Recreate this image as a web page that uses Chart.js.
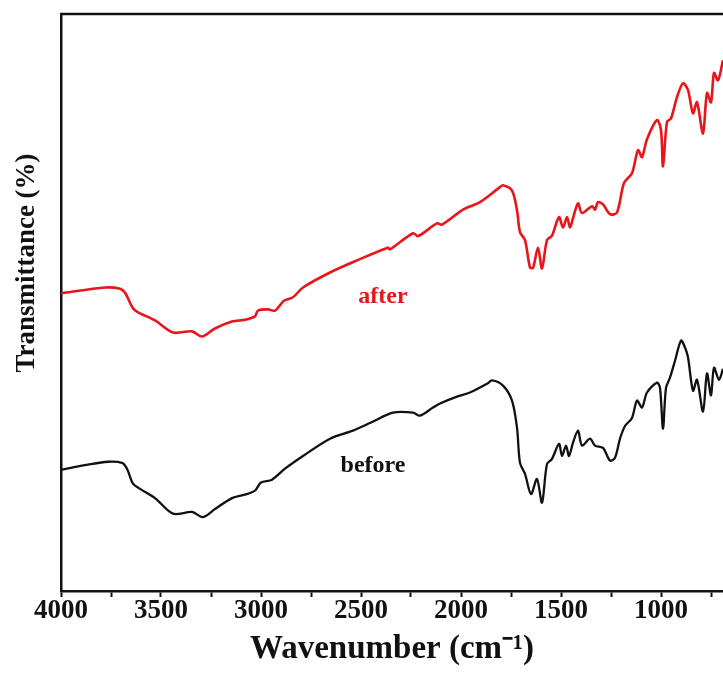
<!DOCTYPE html>
<html>
<head>
<meta charset="utf-8">
<script src="https://cdn.jsdelivr.net/npm/chart.js@4.4.1/dist/chart.umd.min.js"></script>
<style>
  html, body { margin: 0; padding: 0; background: #fff; }
  #wrap { width: 723px; height: 673px; position: relative; }
</style>
</head>
<body>
<div id="wrap"><canvas id="ftirChart"></canvas></div>
<script>
// wavenumbers (cm-1) and transmittance (arbitrary %)
const afterWn = [4000, 3780, 3705, 3680, 3640, 3615, 3530, 3440, 3345, 3295, 3230, 3145, 3080, 3030, 3015, 2965, 2930, 2885, 2840, 2790, 2655, 2520, 2365, 2355, 2240, 2215, 2120, 2095, 1990, 1905, 1805, 1790, 1745, 1720, 1705, 1680, 1655, 1640, 1615, 1595, 1570, 1545, 1510, 1490, 1470, 1455, 1440, 1415, 1395, 1345, 1330, 1315, 1290, 1255, 1220, 1185, 1145, 1115, 1095, 1070, 1020, 1000, 990, 970, 950, 920, 890, 865, 840, 820, 790, 770, 750, 735, 715, 690];
const afterT = [51.6, 52.6, 52.4, 51.7, 49.0, 48.3, 46.9, 44.8, 45.0, 44.1, 45.5, 46.7, 47.0, 47.6, 48.6, 48.8, 48.6, 50.3, 50.9, 52.6, 55.2, 57.3, 59.5, 59.2, 62.0, 61.5, 63.7, 63.5, 66.1, 67.4, 70.0, 70.3, 69.4, 66.0, 62.2, 60.8, 56.1, 56.0, 59.5, 55.9, 60.8, 61.6, 64.8, 63.0, 64.8, 63.0, 64.6, 67.2, 65.5, 66.7, 66.1, 67.4, 67.0, 65.3, 65.6, 70.7, 72.4, 76.4, 75.2, 78.3, 81.6, 79.9, 73.6, 81.3, 81.9, 85.6, 88.0, 86.8, 82.8, 84.7, 79.3, 86.3, 84.7, 89.8, 88.5, 92.0];

const beforeWn = [4000, 3865, 3765, 3695, 3670, 3640, 3605, 3530, 3440, 3345, 3290, 3230, 3145, 3080, 3030, 3000, 2945, 2880, 2790, 2655, 2540, 2450, 2340, 2240, 2205, 2140, 2105, 2020, 1955, 1870, 1845, 1790, 1745, 1720, 1705, 1680, 1650, 1620, 1595, 1570, 1545, 1510, 1495, 1475, 1460, 1440, 1415, 1395, 1355, 1330, 1290, 1255, 1230, 1205, 1180, 1145, 1120, 1095, 1070, 1020, 1005, 990, 975, 955, 930, 900, 880, 865, 840, 820, 790, 770, 750, 735, 710, 690];
const beforeT = [21.0, 21.9, 22.4, 22.2, 21.2, 18.6, 17.7, 16.1, 13.4, 13.7, 12.8, 14.2, 16.1, 16.7, 17.4, 18.8, 19.3, 21.2, 23.4, 26.4, 27.8, 29.2, 30.9, 30.9, 30.4, 31.8, 32.5, 33.7, 34.4, 35.9, 36.5, 35.6, 33.0, 28.3, 22.2, 20.3, 16.8, 19.4, 15.3, 22.0, 22.9, 25.5, 23.4, 25.2, 23.4, 25.7, 27.8, 25.2, 26.4, 25.2, 24.8, 22.6, 23.1, 26.4, 28.6, 30.0, 33.0, 31.8, 34.4, 36.1, 35.2, 28.1, 35.2, 37.0, 39.9, 43.4, 42.2, 40.5, 34.7, 36.6, 31.1, 37.7, 33.9, 38.7, 36.6, 38.5];

const xTicks = [4000, 3750, 3500, 3250, 3000, 2750, 2500, 2250, 2000, 1750, 1500, 1250, 1000, 750];
const xMajorTicks = [4000, 3500, 3000, 2500, 2000, 1500, 1000];

// curve labels: [text, wavenumber, transmittance, colour]
const curveLabels = [
    ['after', 2390, 51.0, '#e8151b'],
    ['before', 2440, 21.7, '#111111']
];
const yTitle = 'Transmittance (%)';

const serif = '"Liberation Serif", "Times New Roman", serif';

const toPoints = (wn, t) => wn.map((w, i) => ({ x: w, y: t[i] }));

// frame top edge, y title (sits above centre in the original), curve labels
const decorations = {
    id: 'decorations',
    afterDraw(chart) {
        const { ctx, chartArea, scales } = chart;
        ctx.save();
        ctx.strokeStyle = '#111';
        ctx.lineWidth = 2.5;
        ctx.beginPath();
        ctx.moveTo(chartArea.left - 1, chartArea.top);
        ctx.lineTo(chartArea.right, chartArea.top);
        ctx.stroke();

        ctx.textAlign = 'center';
        ctx.textBaseline = 'middle';

        ctx.save();
        ctx.translate(chartArea.left - 34, chartArea.top + 249);
        ctx.rotate(-Math.PI / 2);
        ctx.fillStyle = '#111';
        ctx.font = 'bold 27px ' + serif;
        ctx.fillText(yTitle, 0, 0);
        ctx.restore();

        ctx.font = 'bold 24px ' + serif;
        curveLabels.forEach(([text, wn, t, color]) => {
            ctx.fillStyle = color;
            ctx.fillText(text, scales.x.getPixelForValue(wn), scales.y.getPixelForValue(t));
        });
        ctx.restore();
    }
};

const ctx = document.getElementById('ftirChart').getContext('2d');
new Chart(ctx, {
    type: 'line',
    data: {
        datasets: [
            {
                label: 'after',
                data: toPoints(afterWn, afterT),
                borderColor: '#e8151b',
                borderWidth: 2.6,
                pointRadius: 0,
                tension: 0.3,
                fill: false
            },
            {
                label: 'before',
                data: toPoints(beforeWn, beforeT),
                borderColor: '#111111',
                borderWidth: 2.3,
                pointRadius: 0,
                tension: 0.3,
                fill: false
            }
        ]
    },
    options: {
        responsive: true,
        maintainAspectRatio: false,
        animation: false,
        layout: {
            padding: { top: 14, right: 0, left: 61, bottom: 0 }
        },
        plugins: {
            legend: { display: false },
            tooltip: { enabled: false }
        },
        scales: {
            x: {
                type: 'linear',
                reverse: true,
                min: 690,
                max: 4000,
                afterBuildTicks: axis => {
                    axis.ticks = xTicks.map(v => ({ value: v }));
                },
                grid: {
                    display: true,
                    drawOnChartArea: false,
                    drawTicks: true,
                    tickLength: 6,
                    tickWidth: 2,
                    tickColor: '#111'
                },
                border: { display: true, color: '#111', width: 2.5 },
                ticks: {
                    autoSkip: false,
                    maxRotation: 0,
                    padding: -2,
                    color: '#111',
                    font: { family: serif, size: 27, weight: 'bold' },
                    callback: value => xMajorTicks.includes(value) ? String(value) : ''
                },
                title: {
                    display: true,
                    text: 'Wavenumber (cm\u207B\u00B9)',
                    color: '#111',
                    font: { family: serif, size: 33, weight: 'bold' },
                    padding: { top: 4, bottom: 4 }
                }
            },
            y: {
                min: 0,
                max: 100,
                grid: { display: false, drawTicks: false },
                border: { display: true, color: '#111', width: 2.5 },
                ticks: { display: false },
                title: { display: false }
            }
        }
    },
    plugins: [decorations]
});
</script>
</body>
</html>
